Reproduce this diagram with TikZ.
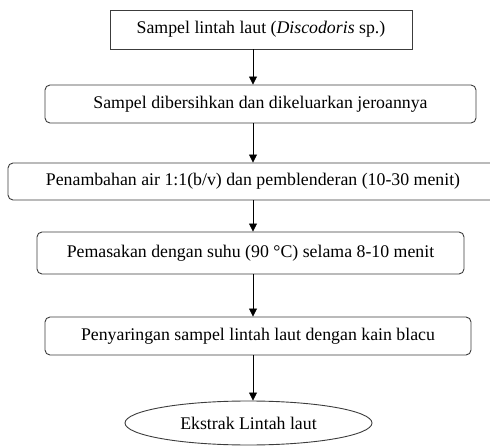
\documentclass[tikz,border=0pt]{standalone}
\usepackage{fontspec}
\setmainfont{Liberation Serif}
\usepackage{tikz}
\usetikzlibrary{shapes,arrows,arrows.meta,positioning,calc}

\definecolor{boxline}{RGB}{60,60,60}

\begin{document}
\begin{tikzpicture}[x=1pt, y=-1pt,
        font=\fontsize{17.8}{21}\selectfont,
        langkah/.style={draw=boxline, line width=0.9pt, rounded corners=5pt, inner sep=0pt, align=center},
        alur/.style={draw=black, line width=0.8pt, -{Triangle[width=8pt,length=8pt]}}]
    \useasboundingbox (0,0) rectangle (490,446);
    \clip (0,0) rectangle (490,446);
    \coordinate (poros) at (253,0);

    % tahapan pembuatan ekstrak
    \node[langkah, rounded corners=0pt, minimum width=302pt, minimum height=39pt] (sampel) at (261,29.5) {Sampel lintah laut (\textit{Discodoris} sp.)};
    \node[langkah, minimum width=431pt, minimum height=38pt] (bersih) at (260.5,104) {Sampel dibersihkan dan dikeluarkan jeroannya};
    \node[langkah, minimum width=510pt, minimum height=37pt] (blender) at (263,181.5) {\hspace*{-20pt}Penambahan air 1:1(b/v) dan pemblenderan (10-30 menit)};
    \node[langkah, minimum width=427pt, minimum height=42pt] (masak) at (250.5,253) {Pemasakan dengan suhu (90 °C) selama 8-10 menit};
    \node[langkah, minimum width=426pt, minimum height=38pt] (saring) at (258,336) {Penyaringan sampel lintah laut dengan kain blacu};
    \node[ellipse, draw=boxline, line width=0.9pt, inner sep=0pt, minimum width=247pt, minimum height=44pt] (ekstrak) at (248.5,423) {Ekstrak Lintah laut};

    % panah
    \draw[alur] (sampel.south -| poros) -- (bersih.north -| poros);
    \draw[alur] (bersih.south -| poros) -- (blender.north -| poros);
    \draw[alur] (blender.south -| poros) -- (masak.north -| poros);
    \draw[alur] (masak.south -| poros) -- (saring.north -| poros);
    \draw[alur] (saring.south -| poros) -- (ekstrak.north -| poros);
\end{tikzpicture}
\end{document}
